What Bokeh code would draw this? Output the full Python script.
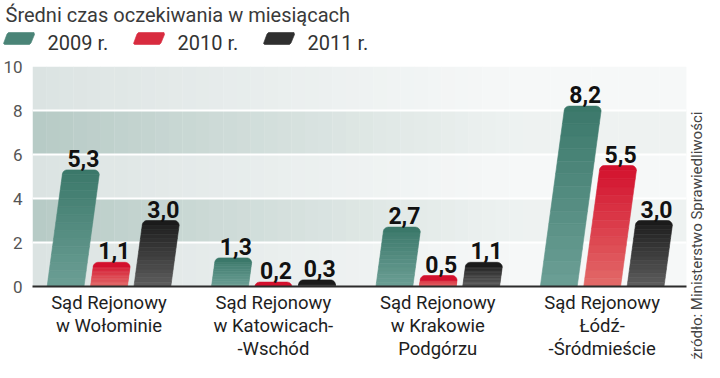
import math
from bokeh.plotting import figure
from bokeh.models import Range1d, FixedTicker
from bokeh.layouts import row, column
from bokeh.embed import file_html
from bokeh.resources import INLINE
from bokeh.core.properties import value

# ---------------- data ----------------
title_text = "Średni czas oczekiwania w miesiącach"
source_text = "źródło: Ministerstwo Sprawiedliwości"
courts = ["Sąd Rejonowy\nw Wołominie",
          "Sąd Rejonowy\nw Katowicach-\n-Wschód",
          "Sąd Rejonowy\nw Krakowie\nPodgórzu",
          "Sąd Rejonowy\nŁódź-\n-Śródmieście"]
series = ["2009 r.", "2010 r.", "2011 r."]
v2009 = [5.3, 1.3, 2.7, 8.2]
v2010 = [1.1, 0.2, 0.5, 5.5]
v2011 = [3.0, 0.3, 1.1, 3.0]
y_ticks = [0, 2, 4, 6, 8, 10]

# ---------------- style ----------------
top_colors = ["#3b786a", "#d3102d", "#1b1b1b"]
bottom_colors = ["#6c9f95", "#e36b69", "#5e5e5e"]
FONT = value("Roboto")

W_MAIN, W_SRC = 688, 16
H_HEAD, H_MAIN = 58, 304
B_LEFT, B_RIGHT, B_TOP, B_BOTTOM = 30, 2, 8, 72
FRAME_W = W_MAIN - B_LEFT - B_RIGHT
FRAME_H = H_MAIN - B_TOP - B_BOTTOM
PXX = 164.9
X0 = -(106.7 - B_LEFT) / PXX
X1 = X0 + FRAME_W / PXX
Y0, Y1 = 0, 10
PXY = FRAME_H / (Y1 - Y0)
OFFSETS = [-0.264, 0.0, 0.264]
HALF_W = 18.5 / PXX
SKEW = 3.0 / PXX          # x shift per value unit
RADIUS = 5.0


def hx(c):
    c = c.lstrip("#")
    return [int(c[i:i + 2], 16) for i in (0, 2, 4)]


def mix(c1, c2, t):
    a, b = hx(c1), hx(c2)
    return "#%02x%02x%02x" % tuple(int(round(a[i] + (b[i] - a[i]) * t)) for i in range(3))


# ---------------- main figure ----------------
p = figure(width=W_MAIN, height=H_MAIN, x_range=Range1d(X0, X1), y_range=Range1d(Y0, Y1),
           output_backend="svg", toolbar_location=None,
           min_border_left=B_LEFT, min_border_right=B_RIGHT,
           min_border_top=B_TOP, min_border_bottom=B_BOTTOM)
p.outline_line_color = None
p.background_fill_color = "white"
p.border_fill_color = "white"

# background bands with horizontal fade
light_l, light_r = "#dbe3e2", "#f6f8f8"
dark_l, dark_r = "#b6cac5", "#eef2f1"
bands = [(0, 2, 0), (2, 4, 1), (4, 6, 0), (6, 8, 1), (8, 10, 0)]
ncol = 48
bl, br, bb, bt, bc = [], [], [], [], []
for (b0, b1, dark) in bands:
    for k in range(ncol):
        xa = X0 + (X1 - X0) * k / ncol
        xb = X0 + (X1 - X0) * (k + 1) / ncol
        t = (k + 0.5) / ncol
        f = max(0.0, 1.0 - t / 0.75) ** 1.1
        cl, cr = (dark_l, dark_r) if dark else (light_l, light_r)
        bl.append(xa); br.append(xb + 0.002); bb.append(b0); bt.append(b1)
        bc.append(mix(cr, cl, f))
p.quad(left=bl, right=br, bottom=bb, top=bt, fill_color=bc, line_color=None, level="image")

p.xgrid.visible = False
p.ygrid.ticker = FixedTicker(ticks=[2, 4, 6, 8])
p.ygrid.grid_line_color = "white"
p.ygrid.grid_line_width = 2
p.ygrid.level = "underlay"


def bar_polys(xc, v, ctop, cbot, n=14):
    xs, ys, cs = [], [], []
    L = lambda y: xc - HALF_W + SKEW * y
    R = lambda y: xc + HALF_W + SKEW * y
    rx = RADIUS / PXX
    ry = min(RADIUS / PXY, v)
    yb = v - ry
    for j in range(n):
        if yb <= 0:
            break
        y0 = yb * j / n
        y1 = yb * (j + 1) / n
        xs.append([L(y0), R(y0), R(y1), L(y1)])
        ys.append([y0, y0, y1, y1])
        cs.append(mix(cbot, ctop, ((y0 + y1) / 2) / v))
    # rounded cap
    cxl, cxr, cy = L(yb) + rx, R(yb) - rx, yb
    px, py = [], []
    for k in range(9):
        th = math.pi - (math.pi / 2) * k / 8
        px.append(cxl + rx * math.cos(th)); py.append(cy + ry * math.sin(th))
    for k in range(9):
        th = math.pi / 2 - (math.pi / 2) * k / 8
        px.append(cxr + rx * math.cos(th)); py.append(cy + ry * math.sin(th))
    xs.append(px); ys.append(py); cs.append(ctop)
    return xs, ys, cs


all_xs, all_ys, all_cs = [], [], []
lab_x, lab_y, lab_t = [], [], []
for si, vals in enumerate([v2009, v2010, v2011]):
    for g, v in enumerate(vals):
        xc = g + OFFSETS[si]
        xs, ys, cs = bar_polys(xc, v, top_colors[si], bottom_colors[si])
        all_xs += xs; all_ys += ys; all_cs += cs
        lab_x.append(xc + SKEW * v + 2.0 / PXX)
        lab_y.append(v)
        lab_t.append(("%.1f" % v).replace(".", ","))

p.patches(xs=all_xs, ys=all_ys, fill_color=all_cs, line_color=all_cs, line_width=0.6)
p.text(x=lab_x, y=lab_y, text=lab_t, text_font=FONT, text_font_size="23px",
       text_font_style="bold", text_color="#111111", text_align="center",
       text_baseline="bottom", y_offset=-3)

# axes
p.xaxis.ticker = FixedTicker(ticks=list(range(len(courts))))
p.xaxis.major_label_overrides = {i: c for i, c in enumerate(courts)}
p.xaxis.major_tick_line_color = None
p.xaxis.minor_tick_line_color = None
p.xaxis.major_tick_out = 0
p.xaxis.axis_line_color = "#2b2b2b"
p.xaxis.axis_line_width = 2
p.xaxis.major_label_text_font = "Roboto"
p.xaxis.major_label_text_font_size = "18.5px"
p.xaxis.major_label_text_line_height = 1.05
p.xaxis.major_label_text_color = "#1e1e1e"
p.xaxis.major_label_standoff = 5

p.yaxis.ticker = FixedTicker(ticks=y_ticks)
p.yaxis.axis_line_color = None
p.yaxis.major_tick_line_color = None
p.yaxis.minor_tick_line_color = None
p.yaxis.major_tick_out = 0
p.yaxis.major_label_text_font = "Roboto"
p.yaxis.major_label_text_font_size = "17px"
p.yaxis.major_label_text_color = "#555555"
p.yaxis.major_label_standoff = 10

# ---------------- header (title + legend) ----------------
h = figure(width=W_MAIN, height=H_HEAD, x_range=Range1d(0, W_MAIN), y_range=Range1d(H_HEAD, 0),
           x_axis_type=None, y_axis_type=None, output_backend="svg", toolbar_location=None,
           min_border=0)
h.outline_line_color = None
h.grid.visible = False
h.background_fill_color = "white"
h.border_fill_color = "white"
h.text(x=[5], y=[26], text=[title_text], text_font=FONT, text_font_size="20px",
       text_color="#3a3a3a", text_baseline="bottom", text_align="left")

sw_x = [3, 133, 263]
sw_top, sw_bot, sw_w, sw_skew = 32, 44, 31, 4
sx, sy, sc = [], [], []
for i in range(3):
    x0 = sw_x[i]
    sx.append([x0 + 1, x0 + sw_w - sw_skew - 1, x0 + sw_w - sw_skew + 0.5, x0 + sw_w, x0 + sw_w - 0.5,
               x0 + sw_skew + 1, x0 + sw_skew - 0.5, x0])
    sy.append([sw_bot, sw_bot, sw_bot - 1.5, sw_top + 2, sw_top, sw_top, sw_top + 1.5, sw_bot - 1])
    sc.append(mix(top_colors[i], bottom_colors[i], 0.3))
h.patches(xs=sx, ys=sy, fill_color=sc, line_color=sc, line_width=0.6)
h.text(x=[x + 44 for x in sw_x], y=[54] * 3, text=series, text_font=FONT, text_font_size="20px",
       text_color="#333333", text_baseline="bottom", text_align="left")

# ---------------- source (rotated) ----------------
s = figure(width=W_SRC, height=H_HEAD + H_MAIN, x_range=Range1d(0, W_SRC),
           y_range=Range1d(H_HEAD + H_MAIN, 0), x_axis_type=None, y_axis_type=None,
           output_backend="svg", toolbar_location=None, min_border=0)
s.outline_line_color = None
s.grid.visible = False
s.background_fill_color = "white"
s.border_fill_color = "white"
s.text(x=[8], y=[H_HEAD + H_MAIN - 3], text=[source_text], angle=math.pi / 2,
       text_font=FONT, text_font_size="15px", text_color="#444444",
       text_align="left", text_baseline="middle")

layout = row(column(row(h), p, spacing=0), s, spacing=0)
open("out.html", "w").write(file_html(layout, INLINE))
